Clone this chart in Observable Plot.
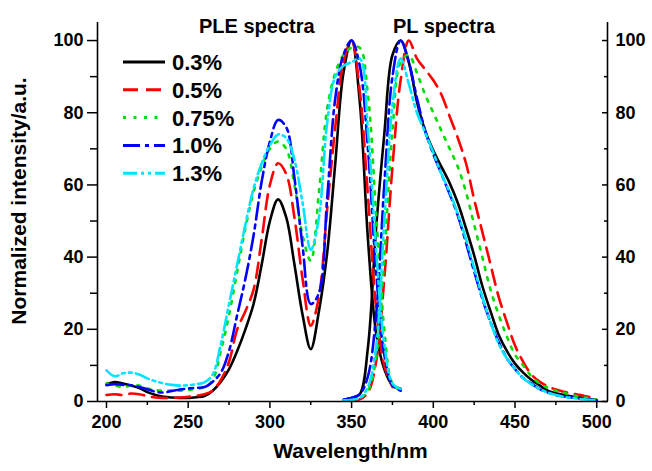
<!DOCTYPE html>
<html><head><meta charset="utf-8">
<script src="https://cdn.jsdelivr.net/npm/d3@7"></script>
<script src="https://cdn.jsdelivr.net/npm/@observablehq/plot@0.6"></script>
<style>
html,body{margin:0;padding:0;background:#fff;}
#wrap{position:relative;width:652px;height:471px;font-family:"Liberation Sans",Arial,sans-serif;}
#wrap svg{display:block;}
#legend{position:absolute;left:0;top:0;pointer-events:none;}
</style></head><body><div id="wrap"></div>
<script>
// ---- data ----
const series = ["0.3%", "0.5%", "0.75%", "1.0%", "1.3%"];

const pleWavelength = [200,205,210,215,220,225,230,235,240,245,250,255,260,265,270,275,280,285,290,295,300,305,310,315,320,325,330,335,340,345,350,355,360,365,370,375,380];
const ple03  = [4.8,5.4,5.0,4.4,3.7,2.6,1.8,1.3,1.1,1.0,1.0,1.2,1.5,3.0,5.5,9,14,20,27,38,50,56,51,38,24,14.5,25,41,66,91,100,83,45,19,9,4.5,3.5];
const ple05  = [1.8,2.0,1.8,2.2,2.0,1.5,1.1,1.0,1.0,1.1,1.3,1.6,2.0,3.0,6,11,20,25,31,45,60,66,63,51,34,21,29,53,76,94,100,86,57,26,10,4,null];
const ple075 = [5,4.5,4,4.4,4.4,3.6,3.2,3,3,3,3.2,3.5,4,6,14,24,36,48,58,65,70,72,70,60,46,39,58,81,91,96,98,98,85,52,20,5,3];
const ple10  = [4.5,4.8,4.6,4.5,4,3.4,2.7,2.5,2.9,3.3,3.6,3.8,4,5.5,8,14,24,34,46,61,72,78,76,62,43,27,30,56,84,96,100,93,70,36,13,4.5,3];
const ple13  = [8.6,7,7.8,8,7.5,6.4,5.6,5,4.6,4.4,4.5,4.8,5.3,7.5,16,27,38,49,59,66,71,74,73,67,55,42,51,77,90,93,94,95,75,42,16,5,3.5];

const plWavelength = [345,350,355,360,365,370,375,380,385,390,395,400,405,410,415,420,425,430,435,440,445,450,455,460,465,470,475,480,485,490,495,500];
const pl03  = [0.5,1,2,15,48,74,96,100,94,83,75,69.5,65,60.5,55,48,40.5,32,25,18.5,14,10.5,8,6,4.5,3,2.3,1.8,1.4,1.1,0.7,0.4];
const pl05  = [null,0.3,0.6,2.5,11,34,65,89,100,95,92,89,85,79,73,66,56,47,38,29,22,15.5,11,7.5,5.5,4.2,3.3,2.7,2.2,1.8,1.3,0.9];
const pl075 = [null,0.5,1,3,12,40,75,94,96,91,85,80,75,70,65,58,49,40,31,24,18,13,10,7,5,3.8,3,2.4,1.8,1.3,0.9,0.5];
const pl10  = [0.5,1,2,7,24,60,90,100,94,84,75,68.5,63,57.5,51.5,44,36,28.5,22,16.5,12,9,6.5,5,3.5,2.5,1.8,1.4,1.1,0.8,0.5,0.3];
const pl13  = [0.3,0.5,1,4,15,50,82,95,88,80,74.5,69,63,58,52,45,37,29,22,16,12,9,6.5,4.8,3.5,2.5,1.8,1.3,1,0.7,0.5,0.3];

const xMajorTicks = [200,250,300,350,400,450,500];
const xMinorTicks = [225,275,325,375,425,475];
const yMajorTicks = [0,20,40,60,80,100];
const yMinorTicks = [10,30,50,70,90];

const panelTitles = ["PLE spectra", "PL spectra"];
const panelTitleX = [292, 406.5];
const xTitle = "Wavelength/nm";
const yTitle = "Normalized intensity/a.u.";

// ---- styles ----
const colors = ["#000000", "#ff0000", "#00dd00", "#0000ff", "#00e5ff"];
const dashes = [null, "15,8", "3,7.5", "17,5,4,5", "14,4,3,4,3,4"];
const xDomain = [194.5, 506.6];
const yDomain = [0, 105];
const font = "'Liberation Sans', Arial, sans-serif";

// ---- build rows ----
const pleValues = [ple03, ple05, ple075, ple10, ple13];
const plValues = [pl03, pl05, pl075, pl10, pl13];
const rows = [];
series.forEach((s, i) => {
  pleWavelength.forEach((w, j) => rows.push({series: s, seg: "PLE", w, v: pleValues[i][j]}));
  plWavelength.forEach((w, j) => rows.push({series: s, seg: "PL", w, v: plValues[i][j]}));
});

const lineMarks = series.map((s, i) => Plot.line(rows.filter(d => d.series === s), {
  x: "w", y: "v", z: "seg",
  stroke: colors[i], strokeWidth: 2.6,
  strokeDasharray: dashes[i] ?? undefined,
  curve: "catmull-rom"
}));

const chart = Plot.plot({
  width: 652, height: 471,
  marginLeft: 97, marginRight: 45, marginTop: 22, marginBottom: 70,
  style: {fontFamily: font, color: "black", background: "white", overflow: "visible"},
  x: {domain: xDomain},
  y: {domain: yDomain},
  marks: [
    ...lineMarks,
    Plot.ruleX(xDomain, {stroke: "black", strokeWidth: 1.6}),
    Plot.ruleY([yDomain[0]], {stroke: "black", strokeWidth: 1.6}),
    Plot.axisY({anchor: "left", ticks: yMajorTicks, tickSize: 10, tickPadding: 4, fontSize: 18, fontWeight: "bold", label: null, strokeWidth: 1.5}),
    Plot.axisY({anchor: "left", ticks: yMinorTicks, tickSize: 7, tickFormat: () => "", label: null, strokeWidth: 1.5}),
    Plot.axisY({anchor: "right", ticks: yMajorTicks, tickSize: -6, tickPadding: 14, fontSize: 18, fontWeight: "bold", label: null, strokeWidth: 1.5}),
    Plot.axisY({anchor: "right", ticks: yMinorTicks, tickSize: -4, tickFormat: () => "", label: null, strokeWidth: 1.5}),
    Plot.axisX({anchor: "bottom", ticks: xMajorTicks, tickSize: 7, tickPadding: 7, fontSize: 18, fontWeight: "bold", label: null, strokeWidth: 1.5}),
    Plot.axisX({anchor: "bottom", ticks: xMinorTicks, tickSize: 4, tickFormat: () => "", label: null, strokeWidth: 1.5}),
    Plot.text(panelTitles, {x: panelTitleX, frameAnchor: "top", dy: -4, fontSize: 20, fontWeight: "bold", fill: "black"}),
    Plot.text([xTitle], {frameAnchor: "bottom", textAnchor: "middle", dy: 56, dx: -2, fontSize: 21, fontWeight: "bold", fill: "black"}),
    Plot.text([yTitle], {frameAnchor: "left", textAnchor: "middle", rotate: -90, dx: -78, dy: -11, fontSize: 21, fontWeight: "bold", fill: "black"})
  ]
});
const wrap = document.getElementById("wrap");
wrap.appendChild(chart);

// ---- legend overlay ----
const legX1 = 123, legX2 = 165, legTextX = 172, legY0 = 62, legDy = 27.8;
const leg = d3.select(wrap).append("svg").attr("id", "legend").attr("width", 652).attr("height", 471);
series.forEach((s, i) => {
  const y = legY0 + i * legDy;
  leg.append("line").attr("x1", legX1).attr("x2", legX2).attr("y1", y).attr("y2", y)
    .attr("stroke", colors[i]).attr("stroke-width", 3)
    .attr("stroke-dasharray", dashes[i]);
  leg.append("text").attr("x", legTextX).attr("y", y).attr("dy", "0.36em")
    .attr("font-family", font).attr("font-size", 22).attr("font-weight", "bold")
    .attr("fill", "black").text(s);
});
</script></body></html>
